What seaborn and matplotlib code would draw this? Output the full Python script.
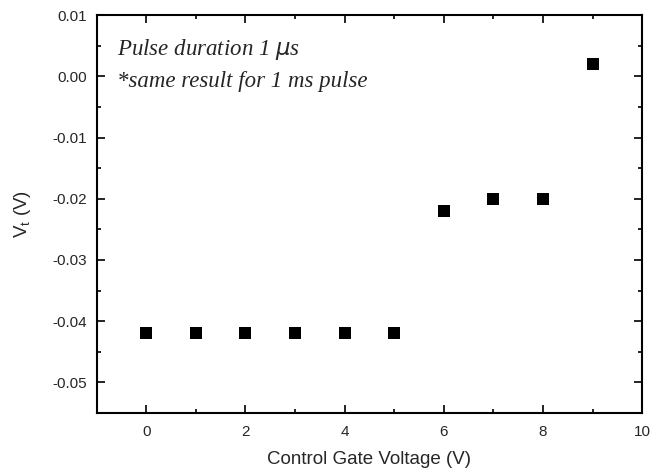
import numpy as np
import pandas as pd
import matplotlib
matplotlib.use('Agg')
import matplotlib.pyplot as plt
import seaborn as sns
from matplotlib.ticker import MultipleLocator

# data
gate_voltage = [0, 1, 2, 3, 4, 5, 6, 7, 8, 9]
vt = [-0.042, -0.042, -0.042, -0.042, -0.042, -0.042, -0.022, -0.020, -0.020, 0.002]

df = pd.DataFrame({'gate': gate_voltage, 'vt': vt})

sns.set_style('ticks')
plt.rcParams['font.family'] = ['Liberation Sans', 'DejaVu Sans']

fig = plt.figure(figsize=(6.62, 4.72), dpi=100)
ax = fig.add_axes([0.146, 0.125, 0.824, 0.843])

sns.scatterplot(data=df, x='gate', y='vt', marker='s', color='black',
                s=75, edgecolor='black', linewidth=0, ax=ax)

ax.set_xlim(-1, 10)
ax.set_ylim(-0.055, 0.01)
ax.xaxis.set_major_locator(MultipleLocator(2))
ax.xaxis.set_minor_locator(MultipleLocator(1))
ax.yaxis.set_minor_locator(MultipleLocator(0.005))
ax.set_yticks(np.arange(-0.05, 0.0101, 0.01))
ax.set_yticklabels(['-0.05', '-0.04', '-0.03', '-0.02', '-0.01', '0.00', '0.01'])
ax.tick_params(which='both', direction='in', top=True, right=True, labelsize=11,
               color='black', width=1.2)
ax.tick_params(which='major', length=6)
ax.tick_params(which='minor', length=3)
ax.tick_params(axis='x', pad=9)
ax.tick_params(axis='y', pad=7)
for sp in ax.spines.values():
    sp.set_linewidth(1.5)
    sp.set_color('black')

ax.set_xlabel('Control Gate Voltage (V)', fontsize=13.5, labelpad=8)
ax.set_ylabel(r'V$_{\mathregular{t}}$ (V)', fontsize=13.5, labelpad=14)

ax.text(0.038, 0.9, r'Pulse duration 1 $\mu$s', fontsize=16.5,
        family='Liberation Serif', style='italic', transform=ax.transAxes)
ax.text(0.038, 0.82, '*same result for 1 ms pulse', fontsize=16.5,
        family='Liberation Serif', style='italic', transform=ax.transAxes)

fig.savefig('out.png', dpi=100)
